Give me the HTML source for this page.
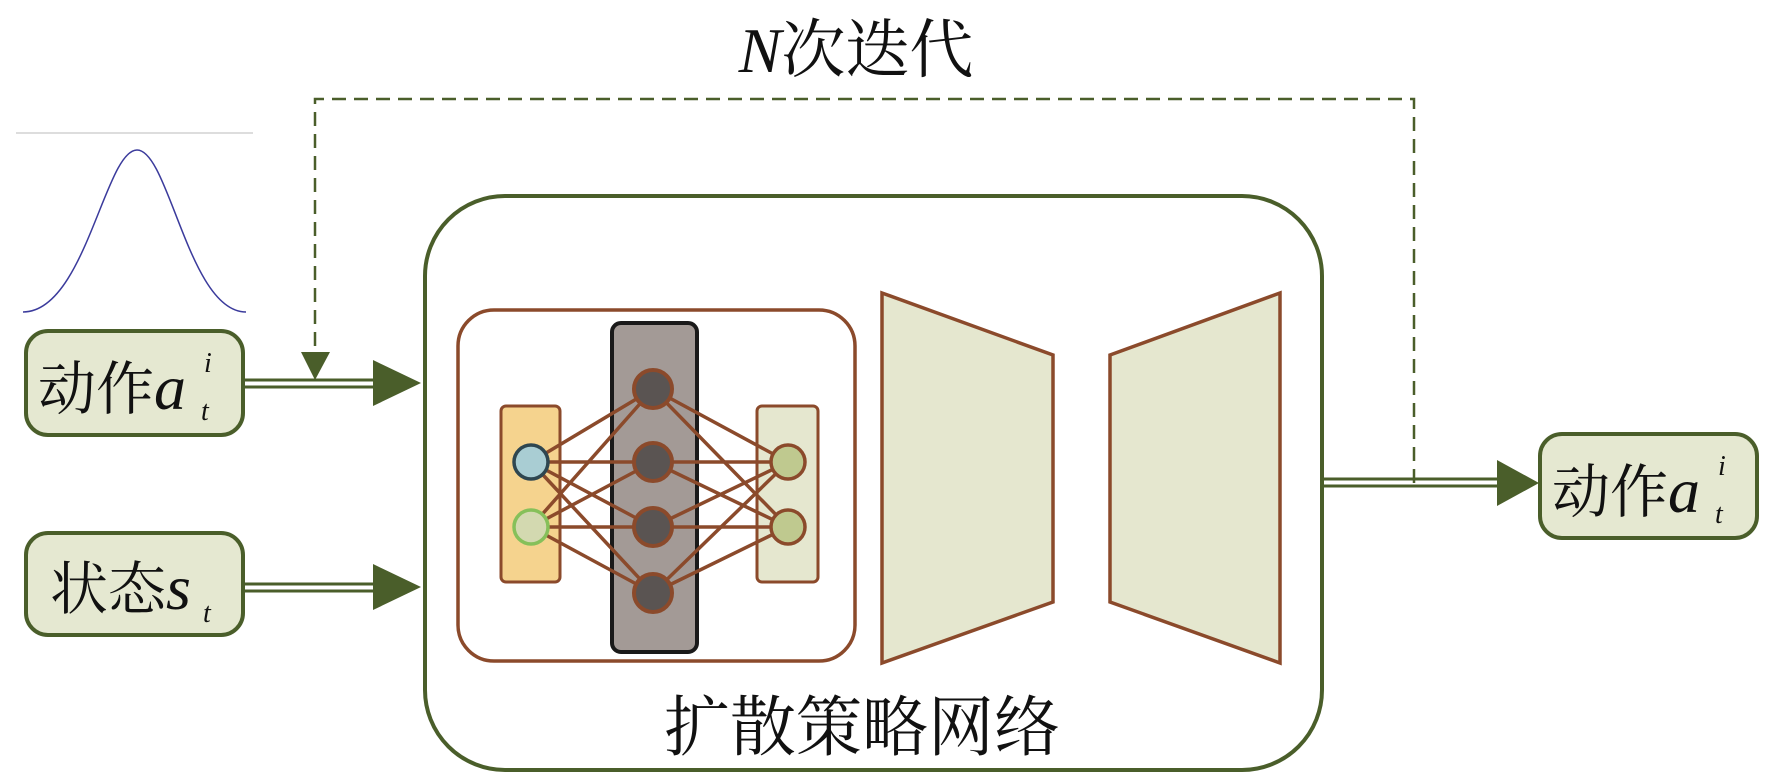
<!DOCTYPE html>
<html><head><meta charset="utf-8"><style>
html,body{margin:0;padding:0;background:#fff;}
svg{display:block;}
text{font-family:"Liberation Serif","Noto Serif CJK SC",serif;fill:#111;}
</style></head><body>
<svg width="1772" height="780" viewBox="0 0 1772 780" xmlns="http://www.w3.org/2000/svg">
<!-- title -->
<text x="856" y="72" font-size="64" text-anchor="middle"><tspan font-style="italic">N</tspan>次迭代</text>
<!-- dashed feedback -->
<path d="M1414,483 L1414,99 L315,99 L315,356" fill="none" stroke="#4a5e2a" stroke-width="2.5" stroke-dasharray="14,8"/>
<polygon points="301,352 330,352 315,380" fill="#4a5e2a"/>
<!-- gaussian -->
<line x1="16" y1="133" x2="253" y2="133" stroke="#bbb" stroke-width="1"/>
<path d="M23,312 C 85,312 105,150 137,150 C 169,150 189,312 246,312" fill="none" stroke="#3b3b9c" stroke-width="1.5"/>
<!-- input boxes -->
<rect x="26" y="331" width="217" height="104" rx="22" fill="#e5e8d1" stroke="#4a5e2a" stroke-width="4"/>
<text x="38" y="409" font-size="58">动作<tspan font-style="italic" font-size="64">a</tspan></text>
<text x="204" y="372" font-size="28" font-style="italic">i</text>
<text x="201" y="420" font-size="28" font-style="italic">t</text>
<rect x="26" y="533" width="217" height="102" rx="22" fill="#e5e8d1" stroke="#4a5e2a" stroke-width="4"/>
<text x="50" y="609" font-size="58">状态<tspan font-style="italic" font-size="64">s</tspan></text>
<text x="203" y="622" font-size="28" font-style="italic">t</text>
<!-- arrows -->
<g stroke="#4a5e2a" stroke-width="3">
<line x1="243" y1="380" x2="375" y2="380"/><line x1="243" y1="387" x2="375" y2="387"/>
<line x1="243" y1="584" x2="375" y2="584"/><line x1="243" y1="591" x2="375" y2="591"/>
<line x1="1322" y1="479" x2="1500" y2="479"/><line x1="1322" y1="486" x2="1500" y2="486"/>
</g>
<polygon points="373,360 421,383 373,406" fill="#4a5e2a"/>
<polygon points="373,564 421,587 373,610" fill="#4a5e2a"/>
<polygon points="1497,460 1539,483 1497,506" fill="#4a5e2a"/>
<!-- main box -->
<rect x="425" y="196" width="897" height="574" rx="80" fill="none" stroke="#4a5e2a" stroke-width="4"/>
<!-- NN box -->
<rect x="458" y="310" width="397" height="351" rx="36" fill="#fff" stroke="#8b4a2b" stroke-width="3.5"/>
<rect x="501" y="406" width="59" height="176" rx="5" fill="#f5d38e" stroke="#8b4a2b" stroke-width="3"/>
<rect x="757" y="406" width="61" height="176" rx="5" fill="#e5e7cf" stroke="#8b4a2b" stroke-width="3"/>
<rect x="612" y="323" width="85" height="329" rx="9" fill="#a39a96" stroke="#1a1a1a" stroke-width="4"/>
<g stroke="#8b4a2b" stroke-width="3.5">
<line x1="531" y1="462" x2="653" y2="389"/><line x1="531" y1="462" x2="653" y2="462"/><line x1="531" y1="462" x2="653" y2="527"/><line x1="531" y1="462" x2="653" y2="593"/>
<line x1="531" y1="527" x2="653" y2="389"/><line x1="531" y1="527" x2="653" y2="462"/><line x1="531" y1="527" x2="653" y2="527"/><line x1="531" y1="527" x2="653" y2="593"/>
<line x1="788" y1="462" x2="653" y2="389"/><line x1="788" y1="462" x2="653" y2="462"/><line x1="788" y1="462" x2="653" y2="527"/><line x1="788" y1="462" x2="653" y2="593"/>
<line x1="788" y1="527" x2="653" y2="389"/><line x1="788" y1="527" x2="653" y2="462"/><line x1="788" y1="527" x2="653" y2="527"/><line x1="788" y1="527" x2="653" y2="593"/>
</g>
<circle cx="531" cy="462" r="17" fill="#a9cdd3" stroke="#2e4650" stroke-width="3.5"/>
<circle cx="531" cy="527" r="17" fill="#d3d9b0" stroke="#86c05a" stroke-width="3.5"/>
<g fill="#5a5452" stroke="#8b4a2b" stroke-width="4">
<circle cx="653" cy="389" r="19"/><circle cx="653" cy="462" r="19"/><circle cx="653" cy="527" r="19"/><circle cx="653" cy="593" r="19"/>
</g>
<circle cx="788" cy="462" r="17" fill="#bfc98f" stroke="#8b4a2b" stroke-width="3.5"/>
<circle cx="788" cy="527" r="17" fill="#bfc98f" stroke="#8b4a2b" stroke-width="3.5"/>
<!-- trapezoids -->
<polygon points="882,293 1053,355 1053,602 882,663" fill="#e5e7cf" stroke="#8b4a2b" stroke-width="3.5"/>
<polygon points="1110,355 1280,293 1280,663 1110,602" fill="#e5e7cf" stroke="#8b4a2b" stroke-width="3.5"/>
<text x="862" y="750" font-size="66" text-anchor="middle">扩散策略网络</text>
<!-- output box -->
<rect x="1540" y="434" width="217" height="104" rx="22" fill="#e5e8d1" stroke="#4a5e2a" stroke-width="4"/>
<text x="1552" y="512" font-size="58">动作<tspan font-style="italic" font-size="64">a</tspan></text>
<text x="1718" y="475" font-size="28" font-style="italic">i</text>
<text x="1715" y="523" font-size="28" font-style="italic">t</text>
</svg>
</body></html>
